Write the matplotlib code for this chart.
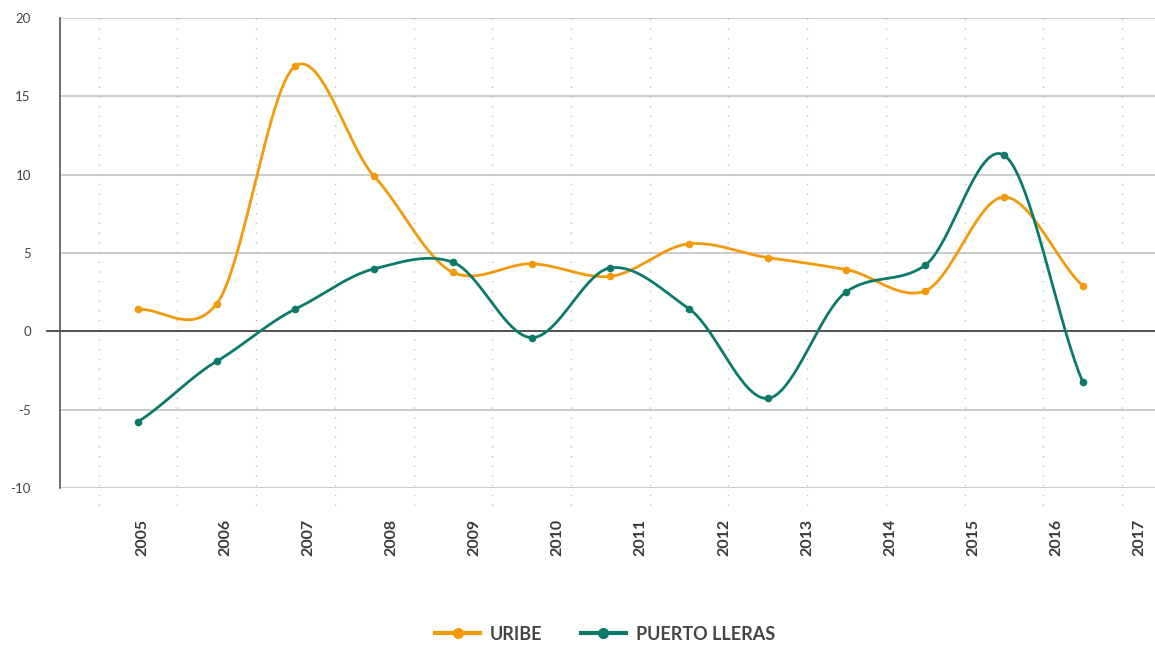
import numpy as np
import matplotlib
matplotlib.use("Agg")
import matplotlib.pyplot as plt
import matplotlib.transforms as mtransforms
from matplotlib.lines import Line2D

years = ["2005", "2006", "2007", "2008", "2009", "2010", "2011",
         "2012", "2013", "2014", "2015", "2016", "2017"]
uribe = [1.40, 1.76, 16.94, 9.90, 3.77, 4.31, 3.51, 5.59, 4.71, 3.94, 2.58, 8.57, 2.91]
puerto_lleras = [-5.77, -1.91, 1.42, 3.99, 4.41, -0.40, 4.05, 1.44, -4.28, 2.53, 4.22, 11.25, -3.21]
y_ticks = [-10, -5, 0, 5, 10, 15, 20]

ORANGE = "#F39A0C"
GREEN = "#0B7A6B"
TXT = "#444444"

plt.rcParams['font.family'] = ['Lato', 'DejaVu Sans']


def smooth(xs, ys, c=0.82, n=40):
    xs = np.asarray(xs, float)
    ys = np.asarray(ys, float)
    m = np.zeros_like(ys)
    m[1:-1] = c * (ys[2:] - ys[:-2]) / 2.0
    m[0] = c * (ys[1] - ys[0])
    m[-1] = c * (ys[-1] - ys[-2])
    ox, oy = [], []
    for i in range(len(xs) - 1):
        t = np.linspace(0, 1, n, endpoint=False)
        h00 = 2 * t**3 - 3 * t**2 + 1
        h10 = t**3 - 2 * t**2 + t
        h01 = -2 * t**3 + 3 * t**2
        h11 = t**3 - t**2
        ox.extend(xs[i] + t * (xs[i + 1] - xs[i]))
        oy.extend(h00 * ys[i] + h10 * m[i] + h01 * ys[i + 1] + h11 * m[i + 1])
    ox.append(xs[-1])
    oy.append(ys[-1])
    return np.array(ox), np.array(oy)


fig = plt.figure(figsize=(11.55, 6.45), dpi=100)
W, H = 1155, 645
ax = fig.add_axes([60 / W, 1 - 488 / H, 1095 / W, 470 / H])

x = np.arange(len(years))
ax.set_xlim(-0.991, 12.92)
ax.set_ylim(-10, 20)

# horizontal grid
for v in y_ticks:
    if v == 0:
        continue
    ax.axhline(v, color="#c4c4c4", lw=1.2, zorder=1)
# zero line extending left of axis
ax.add_line(Line2D([-13 / 1095, 1], [0.0, 0.0],
                   transform=mtransforms.blended_transform_factory(ax.transAxes, ax.transData),
                   color="#333333", lw=1.2, clip_on=False, zorder=2))

# vertical dotted lines
for i in range(len(years) + 1):
    ax.plot([i - 0.5, i - 0.5], [20, -11.45], color="#bdbdbd", lw=1.0,
            linestyle=(0, (1, 6)), clip_on=False, zorder=1)

for s in ["top", "right", "bottom"]:
    ax.spines[s].set_visible(False)
ax.spines["left"].set_color("#555555")
ax.spines["left"].set_linewidth(1.2)

sx, sy = smooth(x, uribe)
ax.plot(sx, sy, color=ORANGE, lw=2.0, zorder=3, solid_capstyle="round")
ax.plot(x, uribe, "o", color=ORANGE, ms=4.5, zorder=4)
gx, gy = smooth(x, puerto_lleras)
ax.plot(gx, gy, color=GREEN, lw=2.0, zorder=3, solid_capstyle="round")
ax.plot(x, puerto_lleras, "o", color=GREEN, ms=4.5, zorder=4)

ax.set_yticks(y_ticks)
ax.set_yticklabels([str(v) for v in y_ticks])
ax.tick_params(axis="y", length=0, pad=21, labelsize=9.5, labelcolor=TXT)

label_pos = 0.051 + 1.056 * x
ax.set_xticks(label_pos)
ax.set_xticklabels(years, rotation=90, fontweight="bold", va="top", ha="center")
ax.tick_params(axis="x", length=0, pad=22, labelsize=11.5, labelcolor="#3a3a3a")

handles = [Line2D([], [], color=ORANGE, lw=3, marker="o", ms=7),
           Line2D([], [], color=GREEN, lw=3, marker="o", ms=7)]
leg = fig.legend(handles, ["URIBE", "PUERTO LLERAS"], loc="center",
                 bbox_to_anchor=(605 / W, 1 - 634 / H), ncol=2, frameon=False,
                 handlelength=2.5, handletextpad=0.55, columnspacing=2.1,
                 prop={"weight": "bold", "size": 13})
for t in leg.get_texts():
    t.set_color(TXT)

fig.savefig("out.png", dpi=100)
